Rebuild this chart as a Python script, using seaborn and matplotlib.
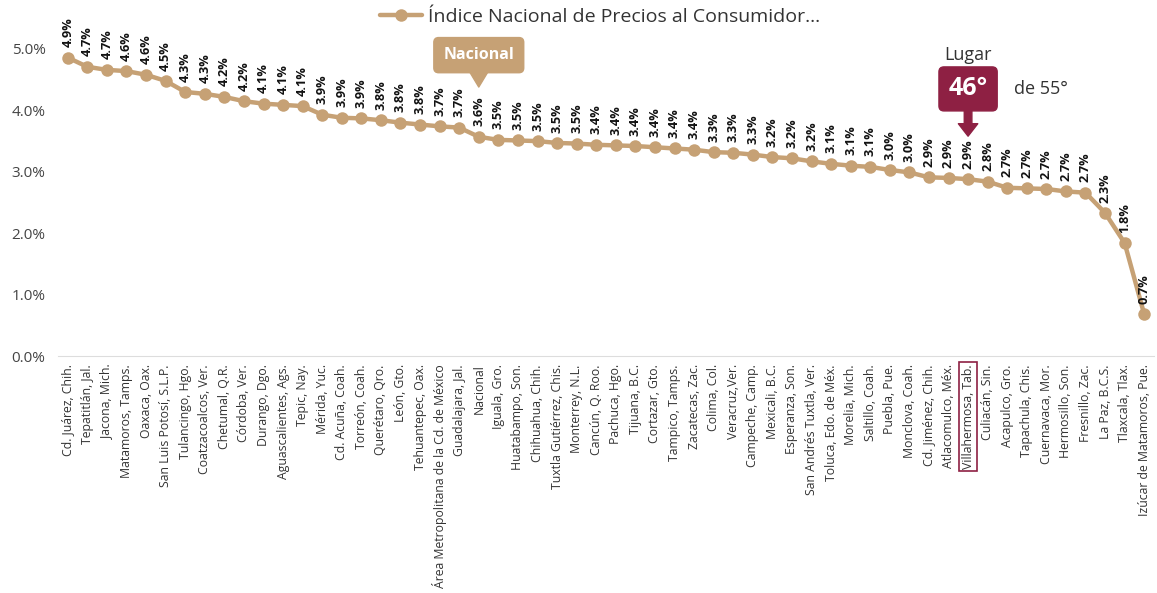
import numpy as np
import pandas as pd
import matplotlib
matplotlib.use("Agg")
import matplotlib.pyplot as plt
import seaborn as sns

# data
ciudades = [
    "Cd. Juárez, Chih.", "Tepatitlán, Jal.", "Jacona, Mich.", "Matamoros, Tamps.",
    "Oaxaca, Oax.", "San Luis Potosí, S.L.P.", "Tulancingo, Hgo.", "Coatzacoalcos, Ver.",
    "Chetumal, Q.R.", "Córdoba, Ver.", "Durango, Dgo.", "Aguascalientes, Ags.",
    "Tepic, Nay.", "Mérida, Yuc.", "Cd. Acuña, Coah.", "Torreón, Coah.",
    "Querétaro, Qro.", "León, Gto.", "Tehuantepec, Oax.",
    "Área Metropolitana de la Cd. de México", "Guadalajara, Jal.", "Nacional",
    "Iguala, Gro.", "Huatabampo, Son.", "Chihuahua, Chih.", "Tuxtla Gutiérrez, Chis.",
    "Monterrey, N.L.", "Cancún, Q. Roo.", "Pachuca, Hgo.", "Tijuana, B.C.",
    "Cortazar, Gto.", "Tampico, Tamps.", "Zacatecas, Zac.", "Colima, Col.",
    "Veracruz,Ver.", "Campeche, Camp.", "Mexicali, B.C.", "Esperanza, Son.",
    "San Andrés Tuxtla, Ver.", "Toluca, Edo. de Méx.", "Morelia, Mich.", "Saltillo, Coah.",
    "Puebla, Pue.", "Monclova, Coah.", "Cd. Jiménez, Chih.", "Atlacomulco, Méx.",
    "Villahermosa, Tab.", "Culiacán, Sin.", "Acapulco, Gro.", "Tapachula, Chis.",
    "Cuernavaca, Mor.", "Hermosillo, Son.", "Fresnillo, Zac.", "La Paz, B.C.S.",
    "Tlaxcala, Tlax.", "Izúcar de Matamoros, Pue.",
]
inflacion = [
    4.86, 4.71, 4.66, 4.64, 4.58, 4.48, 4.30, 4.27, 4.22, 4.15, 4.11, 4.09,
    4.07, 3.93, 3.88, 3.87, 3.84, 3.80, 3.77, 3.74, 3.72, 3.57, 3.52, 3.51,
    3.50, 3.47, 3.46, 3.44, 3.43, 3.42, 3.40, 3.38, 3.36, 3.32, 3.31, 3.28,
    3.24, 3.22, 3.17, 3.13, 3.10, 3.08, 3.03, 2.99, 2.91, 2.90, 2.88, 2.84,
    2.74, 2.73, 2.72, 2.68, 2.66, 2.33, 1.84, 0.68,
]
serie = "Índice Nacional de Precios al Consumidor..."
destacada = "Villahermosa, Tab."
lugar, total = 46, 55

df = pd.DataFrame({"pos": np.arange(len(ciudades)), "ciudad": ciudades, "valor": inflacion})

sns.set_style("white")
plt.rcParams["font.family"] = ["Open Sans", "DejaVu Sans"]

tan = "#C6A175"
maroon = "#8E2043"

fig = plt.figure(figsize=(11.57, 5.93), dpi=100)
ax = fig.add_axes([58 / 1157, 237 / 593, 1096 / 1157, 5.2 * 61.4 / 593])

sns.lineplot(data=df, x="pos", y="valor", ax=ax, color=tan, linewidth=3.2,
             marker="o", markersize=9, markeredgewidth=0, label=serie, legend=False)

ax.set_xlim(-0.5, len(ciudades) - 0.5)
ax.set_ylim(0, 5.2)
ax.set_yticks(np.arange(0, 5.01, 1))
ax.set_yticklabels([f"{t:.1f}%" for t in np.arange(0, 5.01, 1)], fontsize=11, color="#444444")
ax.set_xticks(df["pos"])
ax.set_xticklabels(df["ciudad"], rotation=90, fontsize=8.8, color="#333333")
ax.tick_params(axis="y", length=0, pad=9)
ax.tick_params(axis="x", length=0, pad=6)
ax.set_xlabel("")
ax.set_ylabel("")
for s in ["top", "right", "left"]:
    ax.spines[s].set_visible(False)
ax.spines["bottom"].set_color("#dddddd")

# highlight city tick label
for lbl in ax.get_xticklabels():
    if lbl.get_text() == destacada:
        lbl.set_bbox(dict(facecolor="white", edgecolor=maroon, linewidth=1.2, pad=1.5))

# data labels
for x, v in zip(df["pos"], df["valor"]):
    ax.annotate(f"{v:.1f}%", (x, v), xytext=(0, 7.5), textcoords="offset points",
                rotation=90, ha="center", va="bottom", fontsize=9.2, fontweight="bold",
                color="#111111")

# legend on top
handles = ax.get_lines()[:1]
leg = fig.legend(handles, [serie], loc="center", bbox_to_anchor=(600 / 1157, 1 - 17 / 593),
                 frameon=False, fontsize=14, handlelength=2.2, handletextpad=0.3)
for t in leg.get_texts():
    t.set_color("#333333")

# "Nacional" callout
i_nac = ciudades.index("Nacional")
ax.text(i_nac, 4.90, "Nacional", ha="center", va="center", fontsize=11.5,
        fontweight="bold", color="white",
        bbox=dict(boxstyle="round,pad=0.6,rounding_size=0.3", facecolor=tan, edgecolor=tan))
ax.annotate("", xy=(i_nac, 4.38), xytext=(i_nac, 4.68),
            arrowprops=dict(arrowstyle="wedge,tail_width=1.6,shrink_factor=0.5",
                            facecolor=tan, edgecolor=tan, shrinkA=0, shrinkB=0))

# ranking callout
i_d = ciudades.index(destacada)
ax.text(i_d, 4.90, "Lugar", ha="center", va="center", fontsize=13, color="#333333")
ax.text(i_d, 4.35, f"{lugar}°", ha="center", va="center", fontsize=18,
        fontweight="bold", color="white",
        bbox=dict(boxstyle="round,pad=0.38,rounding_size=0.2", facecolor=maroon, edgecolor=maroon))
ax.text(i_d + 3.7, 4.35, f"de {total}°", ha="center", va="center", fontsize=13, color="#333333")
ax.annotate("", xy=(i_d, 3.58), xytext=(i_d, 4.06),
            arrowprops=dict(arrowstyle="simple,head_width=1.4,head_length=0.9,tail_width=0.55",
                            facecolor=maroon, edgecolor=maroon, shrinkA=0, shrinkB=0))

fig.savefig("out.png", dpi=100)
